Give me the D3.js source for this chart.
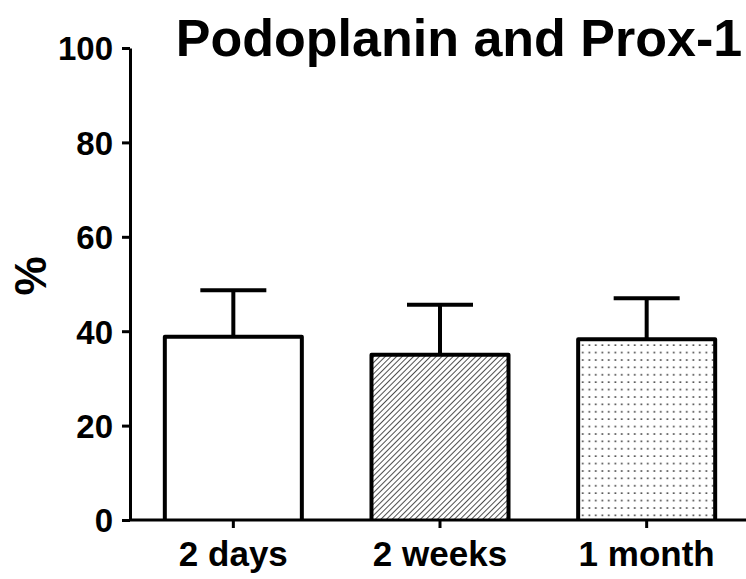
<!DOCTYPE html>
<html><head><meta charset="utf-8">
<script src="https://cdn.jsdelivr.net/npm/d3@7"></script>
<style>body{margin:0;background:#fff}svg{display:block}text{font-family:"Liberation Sans",Arial,sans-serif;font-weight:bold;fill:#000}</style>
</head><body><svg id="c" width="746" height="579"></svg>
<script>
const categories = ["2 days", "2 weeks", "1 month"];
const means = [38.8, 35.0, 38.3];
const errors = [9.9, 10.6, 8.7];
const fills = ["none", "hatch", "dots"];
const yTicks = [0, 20, 40, 60, 80, 100];
const title = "Podoplanin and Prox-1";
const yLabel = "%";

const svg = d3.select("#c");
const x = d3.scaleBand().domain(categories).range([130, 750]).paddingInner(0.337).paddingOuter(0.1685);
const y = d3.scaleLinear().domain([0, 100]).range([520, 48]);

const defs = svg.append("defs");
const hs = 4.0;
const h = defs.append("pattern").attr("id", "hatch").attr("patternUnits", "userSpaceOnUse")
  .attr("width", hs).attr("height", hs).attr("patternTransform", "rotate(45)");
h.append("rect").attr("width", hs).attr("height", hs).attr("fill", "#fff");
h.append("line").attr("x1", 0).attr("y1", 0).attr("x2", 0).attr("y2", hs).attr("stroke", "#222").attr("stroke-width", 1.6);
const dp = defs.append("pattern").attr("id", "dots").attr("patternUnits", "userSpaceOnUse")
  .attr("width", 6.5).attr("height", 7.4).attr("x", 1).attr("y", 1);
dp.append("rect").attr("width", 6.5).attr("height", 7.4).attr("fill", "#fff");
dp.append("rect").attr("x", 2.5).attr("y", 3).attr("width", 1.6).attr("height", 1.6).attr("fill", "#333");

// error bars
const eg = svg.append("g");
categories.forEach((c, i) => {
  const cx = x(c) + x.bandwidth() / 2;
  eg.append("line").attr("x1", cx).attr("x2", cx).attr("y1", y(means[i])).attr("y2", y(means[i] + errors[i]))
    .attr("stroke", "#000").attr("stroke-width", 4);
  eg.append("line").attr("x1", cx - 33).attr("x2", cx + 33).attr("y1", y(means[i] + errors[i])).attr("y2", y(means[i] + errors[i]))
    .attr("stroke", "#000").attr("stroke-width", 4);
});

// bars
svg.append("g").selectAll("path").data(categories).join("path")
  .attr("d", (c, i) => {
    const x0 = x(c), x1 = x(c) + x.bandwidth(), yt = y(means[i]), yb = y(0);
    return `M${x0},${yb}L${x0},${yt}L${x1},${yt}L${x1},${yb}`;
  })
  .attr("fill", (c, i) => fills[i] === "none" ? "#fff" : `url(#${fills[i]})`)
  .attr("stroke", "#000").attr("stroke-width", 4).attr("stroke-linejoin", "round");

// y axis
const ya = svg.append("g").attr("transform", "translate(130,0)")
  .call(d3.axisLeft(y).tickValues(yTicks).tickSize(8).tickPadding(9).tickSizeOuter(0));
ya.select(".domain").attr("stroke-width", 3);
ya.selectAll(".tick line").attr("stroke-width", 3);
ya.selectAll(".tick text").style("font-size", "33px").attr("dy", "0.36em");

// x axis
const xa = svg.append("g").attr("transform", "translate(0,520)")
  .call(d3.axisBottom(x).tickSize(8).tickPadding(13).tickSizeOuter(0));
xa.select(".domain").attr("stroke-width", 3).attr("d", "M130,0H746");
xa.selectAll(".tick line").attr("stroke-width", 3);
xa.selectAll(".tick text").style("font-size", "35px").attr("dy", "0.71em");

svg.append("text").attr("x", 459).attr("y", 56).attr("text-anchor", "middle").style("font-size", "52px").text(title);
svg.append("text").attr("transform", "translate(46,276) rotate(-90)").attr("text-anchor", "middle").style("font-size", "44px").text(yLabel);
</script></body></html>
